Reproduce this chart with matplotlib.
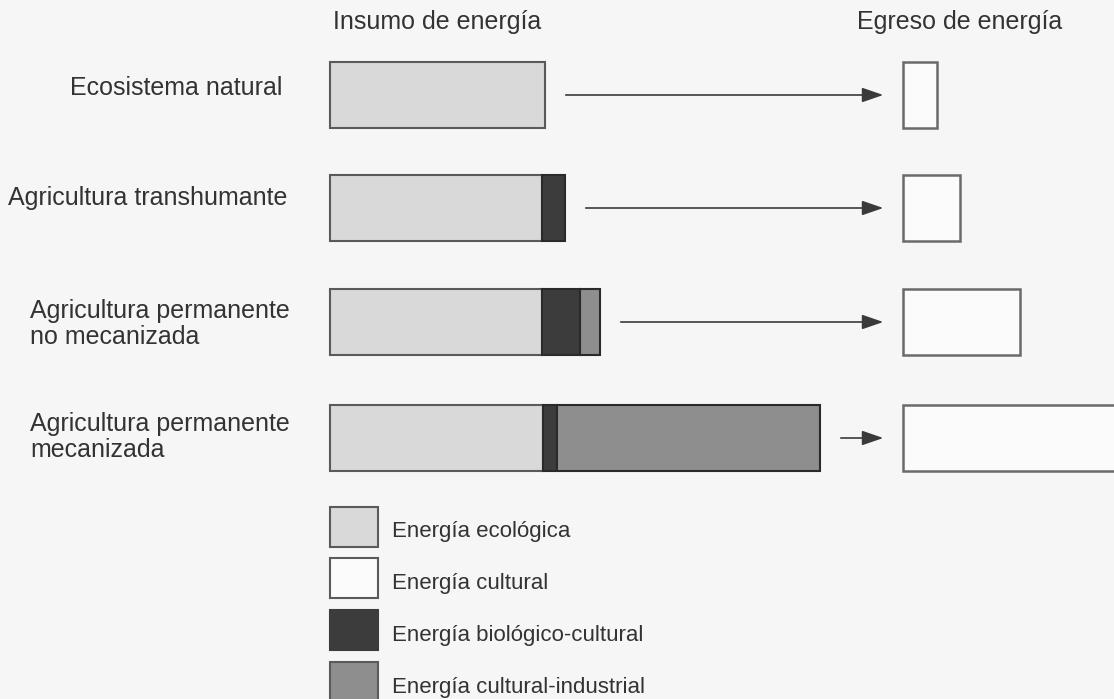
import matplotlib.pyplot as plt
from matplotlib.patches import Rectangle

plt.rcParams['font.family'] = ['Liberation Sans', 'DejaVu Sans']

# energy flows per system (arbitrary units)
systems = ['Ecosistema natural', 'Agricultura transhumante',
           'Agricultura permanente\nno mecanizada',
           'Agricultura permanente\nmecanizada']
ecologica = [215, 212, 212, 213]
biologico_cultural = [0, 23, 38, 14]
cultural_industrial = [0, 0, 20, 263]
egreso = [34, 57, 117, 230]

legend_labels = ['Energía ecológica', 'Energía cultural',
                 'Energía biológico-cultural', 'Energía cultural-industrial']

c_eco = '#d9d9d9'
c_cult = '#fbfbfb'
c_bio = '#3c3c3c'
c_ind = '#8e8e8e'
c_edge = '#5a5a5a'
bg = '#f6f6f6'

fig = plt.figure(figsize=(11.14, 6.99), dpi=100, facecolor=bg)
ax = fig.add_axes([0, 0, 1, 1])
ax.set_facecolor(bg)
ax.set_xlim(0, 1114)
ax.set_ylim(699, 0)
ax.axis('off')

x0 = 330
x_out = 903
rows_y = [95, 208, 322, 438]
bar_h = 66

ax.text(437, 22, 'Insumo de energía', ha='center', va='center', fontsize=18, color='#333333')
ax.text(960, 22, 'Egreso de energía', ha='center', va='center', fontsize=18, color='#333333')

label_x = [70, 8, 30, 30]
label_dy = [-7, -10, 2, -1]
for i, name in enumerate(systems):
    y = rows_y[i]
    ax.text(label_x[i], y + label_dy[i], name, ha='left', va='center',
            fontsize=18, color='#333333', linespacing=1.15)

    ax.barh(y, ecologica[i], left=x0, height=bar_h, color=c_eco,
            edgecolor=c_edge, linewidth=1.5)
    left = x0 + ecologica[i]
    if biologico_cultural[i]:
        ax.barh(y, biologico_cultural[i], left=left, height=bar_h, color=c_bio,
                edgecolor='#2a2a2a', linewidth=1.5)
        left += biologico_cultural[i]
    if cultural_industrial[i]:
        ax.barh(y, cultural_industrial[i], left=left, height=bar_h, color=c_ind,
                edgecolor='#2a2a2a', linewidth=1.5)
        left += cultural_industrial[i]

    ax.barh(y, egreso[i], left=x_out, height=bar_h, color=c_cult,
            edgecolor='#6a6a6a', linewidth=1.8)

    ax.annotate('', xy=(x_out - 17, y), xytext=(left + 18, y),
                arrowprops=dict(arrowstyle='-|>,head_length=1.3,head_width=0.45',
                                color='#3a3a3a', lw=1.2))

# legend
leg_y = [527, 578, 630, 682]
leg_colors = [c_eco, c_cult, c_bio, c_ind]
for yy, col, lab in zip(leg_y, leg_colors, legend_labels):
    ax.add_patch(Rectangle((330, yy - 20), 48, 40, facecolor=col,
                           edgecolor=c_edge if col != c_bio else '#3c3c3c', linewidth=1.5))
    ax.text(392, yy + 5, lab, ha='left', va='center', fontsize=16, color='#333333')

fig.savefig('out.png', dpi=100, facecolor=bg)
